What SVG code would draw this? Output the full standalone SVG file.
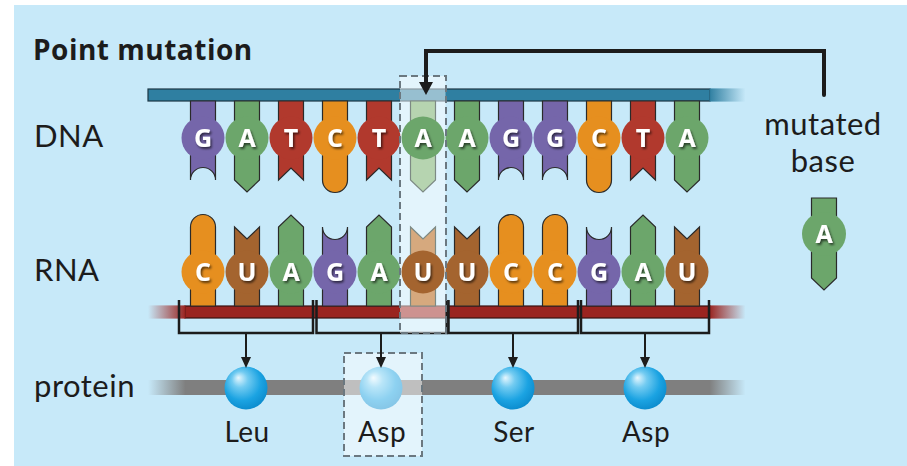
<svg xmlns="http://www.w3.org/2000/svg" width="907" height="466" viewBox="0 0 907 466">
  <defs>
    <style>
      .lbl{font-family:Lato,"Open Sans","Liberation Sans",sans-serif;font-size:31px;letter-spacing:0.5px;fill:#1c1c1c}
      .aa{font-family:Lato,"Open Sans","Liberation Sans",sans-serif;font-size:28px;letter-spacing:0.4px;fill:#1c1c1c;text-anchor:middle}
      .title{font-family:"Open Sans","Liberation Sans",sans-serif;font-size:28px;font-weight:700;letter-spacing:0.5px;fill:#1c1c1c}
      .let{font-family:"Open Sans","Liberation Sans",sans-serif;font-weight:700;font-size:25px;fill:#fff;text-anchor:middle;filter:url(#sh)}
      .stem{stroke:#2a2a2a;stroke-width:1.2}
      .pale{stroke:#7d8a84;stroke-width:1.2}
      .G{fill:#7566aa}
      .A{fill:#6ca66b}
      .T{fill:#b1392d}
      .C{fill:#e68f1f}
      .U{fill:#a4642f}
      .hl{fill:#fff;fill-opacity:0.5}
      .dash{fill:none;stroke:#6b7880;stroke-width:2;stroke-dasharray:7 4}
      .bracket{fill:none;stroke:#1c1c1c;stroke-width:2.5}
      .link{fill:none;stroke:#1c1c1c;stroke-width:2}
      .head{fill:#1c1c1c}
    </style>
    <filter id="sh" x="-40%" y="-40%" width="180%" height="180%">
      <feDropShadow dx="1.5" dy="2" stdDeviation="1.3" flood-color="#000" flood-opacity="0.6"/>
    </filter>
    <linearGradient id="fadeBlueR" x1="0" x2="1" y1="0" y2="0">
      <stop offset="0" stop-color="#2f7fa1"/>
      <stop offset="1" stop-color="#2f7fa1" stop-opacity="0"/>
    </linearGradient>
    <linearGradient id="fadeRedR" x1="0" x2="1" y1="0" y2="0">
      <stop offset="0" stop-color="#9a2420"/>
      <stop offset="1" stop-color="#9a2420" stop-opacity="0"/>
    </linearGradient>
    <linearGradient id="fadeRedL" x1="1" x2="0" y1="0" y2="0">
      <stop offset="0" stop-color="#9a2420"/>
      <stop offset="1" stop-color="#9a2420" stop-opacity="0"/>
    </linearGradient>
    <linearGradient id="fadeGreyR" x1="0" x2="1" y1="0" y2="0">
      <stop offset="0" stop-color="#7f7f7f"/>
      <stop offset="1" stop-color="#7f7f7f" stop-opacity="0"/>
    </linearGradient>
    <linearGradient id="fadeGreyL" x1="1" x2="0" y1="0" y2="0">
      <stop offset="0" stop-color="#7f7f7f"/>
      <stop offset="1" stop-color="#7f7f7f" stop-opacity="0"/>
    </linearGradient>
    <radialGradient id="ball" cx="0.45" cy="0.4" r="0.62" fx="0.32" fy="0.26">
      <stop offset="0" stop-color="#e6f7fe"/>
      <stop offset="0.3" stop-color="#72cbf1"/>
      <stop offset="0.7" stop-color="#1ba3e2"/>
      <stop offset="1" stop-color="#0b8bcd"/>
    </radialGradient>
    <!-- stem outlines, drawn relative to the base centre -->
    <path id="dG" d="M-12.5,101 V180 A12.5,12.5 0 0 1 12.5,180 V101 Z"/>
    <path id="dA" d="M-12.5,101 V180 L0,192 L12.5,180 V101 Z"/>
    <path id="dT" d="M-12.5,101 V180 L0,168 L12.5,180 V101 Z"/>
    <path id="dC" d="M-12.5,101 V180 A12.5,12.5 0 0 0 12.5,180 V101 Z"/>
    <path id="rC" d="M-12.5,306 V227 A12.5,12.5 0 0 1 12.5,227 V306 Z"/>
    <path id="rG" d="M-12.5,306 V227 A12.5,12.5 0 0 0 12.5,227 V306 Z"/>
    <path id="rA" d="M-12.5,306 V227 L0,215 L12.5,227 V306 Z"/>
    <path id="rU" d="M-12.5,306 V227 L0,239 L12.5,227 V306 Z"/>
  </defs>

  <!-- backdrop -->
  <rect x="0" y="0" width="907" height="466" fill="#fff"/>
  <rect x="14" y="5" width="893" height="461" fill="#c7e9f9"/>

  <text class="title" x="33" y="60">Point mutation</text>
  <text class="lbl" x="34" y="147">DNA</text>
  <text class="lbl" x="34" y="281">RNA</text>
  <text class="lbl" x="34" y="397">protein</text>
  <text class="lbl" x="823" y="134.5" text-anchor="middle">mutated</text>
  <text class="lbl" x="823" y="172" text-anchor="middle">base</text>

  <!-- backbones -->
  <g id="dna-backbone">
    <rect x="148" y="89" width="562" height="12" fill="#2f7fa1" stroke="#1b3644" stroke-width="1.2"/>
    <rect x="709.5" y="88.4" width="36" height="13.2" fill="url(#fadeBlueR)"/>
  </g>
  <g id="rna-backbone">
    <rect x="185" y="306" width="525" height="12" fill="#9a2420" stroke="#3a1210" stroke-width="1.2"/>
    <rect x="709.5" y="305.4" width="36" height="13.2" fill="url(#fadeRedR)"/>
    <rect x="148" y="305.4" width="37.5" height="13.2" fill="url(#fadeRedL)"/>
  </g>
  <g id="protein-chain">
    <rect x="185" y="380" width="525" height="15" fill="#7f7f7f"/>
    <rect x="709.5" y="380" width="36" height="15" fill="url(#fadeGreyR)"/>
    <rect x="148" y="380" width="37.5" height="15" fill="url(#fadeGreyL)"/>
  </g>

  <!-- codon brackets -->
  <g id="codons">
    <path class="bracket" d="M179,300 V333 H313 V300"/>
    <path class="bracket" d="M316.5,300 V333 H446.5 V300"/>
    <path class="bracket" d="M448.5,300 V333 H578 V300"/>
    <path class="bracket" d="M581,300 V333 H709 V300"/>
  </g>

  <!-- amino acids -->
  <g id="aa-leu"><circle cx="246" cy="388" r="21.5" fill="url(#ball)"/></g>
  <g id="aa-asp1"><circle cx="381" cy="388" r="21.5" fill="url(#ball)"/></g>
  <g id="aa-ser"><circle cx="513" cy="388" r="21.5" fill="url(#ball)"/></g>
  <g id="aa-asp2"><circle cx="645" cy="388" r="21.5" fill="url(#ball)"/></g>

  <!-- highlight washes over the changed column and residue -->
  <rect class="hl" x="400" y="76" width="45.5" height="257"/>
  <rect class="hl" x="344" y="353" width="78" height="103"/>

  <!-- DNA bases -->
  <g id="dna-1"><use href="#dG" x="203" class="stem G"/><circle cx="203" cy="138" r="21.5" class="G"/><text class="let" x="203" y="147">G</text></g>
  <g id="dna-2"><use href="#dA" x="247" class="stem A"/><circle cx="247" cy="138" r="21.5" class="A"/><text class="let" x="247" y="147">A</text></g>
  <g id="dna-3"><use href="#dT" x="291" class="stem T"/><circle cx="291" cy="138" r="21.5" class="T"/><text class="let" x="291" y="147">T</text></g>
  <g id="dna-4"><use href="#dC" x="335" class="stem C"/><circle cx="335" cy="138" r="21.5" class="C"/><text class="let" x="335" y="147">C</text></g>
  <g id="dna-5"><use href="#dT" x="379" class="stem T"/><circle cx="379" cy="138" r="21.5" class="T"/><text class="let" x="379" y="147">T</text></g>
  <g id="dna-6"><use href="#dA" x="423" class="pale" fill="#b6d4b0"/><circle cx="423" cy="138" r="21.5" class="A"/><text class="let" x="423" y="147">A</text></g>
  <g id="dna-7"><use href="#dA" x="467" class="stem A"/><circle cx="467" cy="138" r="21.5" class="A"/><text class="let" x="467" y="147">A</text></g>
  <g id="dna-8"><use href="#dG" x="511" class="stem G"/><circle cx="511" cy="138" r="21.5" class="G"/><text class="let" x="511" y="147">G</text></g>
  <g id="dna-9"><use href="#dG" x="555" class="stem G"/><circle cx="555" cy="138" r="21.5" class="G"/><text class="let" x="555" y="147">G</text></g>
  <g id="dna-10"><use href="#dC" x="599" class="stem C"/><circle cx="599" cy="138" r="21.5" class="C"/><text class="let" x="599" y="147">C</text></g>
  <g id="dna-11"><use href="#dT" x="643" class="stem T"/><circle cx="643" cy="138" r="21.5" class="T"/><text class="let" x="643" y="147">T</text></g>
  <g id="dna-12"><use href="#dA" x="687" class="stem A"/><circle cx="687" cy="138" r="21.5" class="A"/><text class="let" x="687" y="147">A</text></g>

  <!-- RNA bases -->
  <g id="rna-1"><use href="#rC" x="203" class="stem C"/><circle cx="203" cy="272" r="21.5" class="C"/><text class="let" x="203" y="281">C</text></g>
  <g id="rna-2"><use href="#rU" x="247" class="stem U"/><circle cx="247" cy="272" r="21.5" class="U"/><text class="let" x="247" y="281">U</text></g>
  <g id="rna-3"><use href="#rA" x="291" class="stem A"/><circle cx="291" cy="272" r="21.5" class="A"/><text class="let" x="291" y="281">A</text></g>
  <g id="rna-4"><use href="#rG" x="335" class="stem G"/><circle cx="335" cy="272" r="21.5" class="G"/><text class="let" x="335" y="281">G</text></g>
  <g id="rna-5"><use href="#rA" x="379" class="stem A"/><circle cx="379" cy="272" r="21.5" class="A"/><text class="let" x="379" y="281">A</text></g>
  <g id="rna-6"><use href="#rU" x="423" class="pale" fill="#d6a97e"/><circle cx="423" cy="272" r="21.5" class="U"/><text class="let" x="423" y="281">U</text></g>
  <g id="rna-7"><use href="#rU" x="467" class="stem U"/><circle cx="467" cy="272" r="21.5" class="U"/><text class="let" x="467" y="281">U</text></g>
  <g id="rna-8"><use href="#rC" x="511" class="stem C"/><circle cx="511" cy="272" r="21.5" class="C"/><text class="let" x="511" y="281">C</text></g>
  <g id="rna-9"><use href="#rC" x="555" class="stem C"/><circle cx="555" cy="272" r="21.5" class="C"/><text class="let" x="555" y="281">C</text></g>
  <g id="rna-10"><use href="#rG" x="599" class="stem G"/><circle cx="599" cy="272" r="21.5" class="G"/><text class="let" x="599" y="281">G</text></g>
  <g id="rna-11"><use href="#rA" x="643" class="stem A"/><circle cx="643" cy="272" r="21.5" class="A"/><text class="let" x="643" y="281">A</text></g>
  <g id="rna-12"><use href="#rU" x="687" class="stem U"/><circle cx="687" cy="272" r="21.5" class="U"/><text class="let" x="687" y="281">U</text></g>

  <!-- loose replacement base -->
  <g id="mutated-base">
    <path class="stem A" d="M811.5,198 H836.5 V278 L824,290 L811.5,278 Z"/>
    <circle cx="824" cy="234" r="22" class="A"/>
    <text class="let" x="824" y="243">A</text>
  </g>

  <!-- amino acid names -->
  <text class="aa" x="247" y="442">Leu</text>
  <text class="aa" x="382" y="442">Asp</text>
  <text class="aa" x="514" y="442">Ser</text>
  <text class="aa" x="646" y="442">Asp</text>

  <!-- dashed frames -->
  <rect class="dash" x="400" y="76" width="46" height="257"/>
  <rect class="dash" x="344" y="353" width="78" height="103"/>

  <!-- connectors -->
  <g id="connectors">
    <path d="M824,95 V51 H426 V84" fill="none" stroke="#1c1c1c" stroke-width="4" stroke-linecap="round" stroke-linejoin="miter"/>
    <polygon class="head" points="419,82 433,82 426,95"/>
    <path class="link" d="M246,333 V358"/>
    <polygon class="head" points="241,357 251,357 246,368"/>
    <path class="link" d="M381,333 V358"/>
    <polygon class="head" points="376,357 386,357 381,368"/>
    <path class="link" d="M513,333 V358"/>
    <polygon class="head" points="508,357 518,357 513,368"/>
    <path class="link" d="M645,333 V358"/>
    <polygon class="head" points="640,357 650,357 645,368"/>
  </g>
</svg>
